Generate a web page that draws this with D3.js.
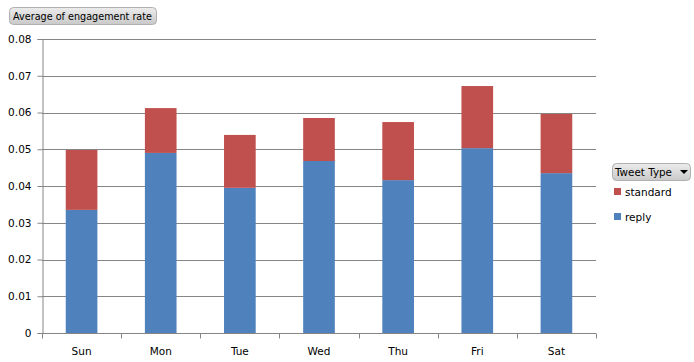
<!DOCTYPE html>
<html>
<head>
<meta charset="utf-8">
<script src="https://cdn.jsdelivr.net/npm/d3@7"></script>
<style>
  body { margin: 0; background: #fff; }
  text { font-family: "DejaVu Sans", Tahoma, sans-serif; font-size: 10.5px; fill: #000; }
</style>
</head>
<body>
<script>
var days = ["Sun", "Mon", "Tue", "Wed", "Thu", "Fri", "Sat"];
var reply = [0.0335, 0.0490, 0.0395, 0.0468, 0.0416, 0.0503, 0.0435];
var standard = [0.0163, 0.0122, 0.0144, 0.0117, 0.0158, 0.0169, 0.0161];
var seriesNames = ["reply", "standard"];
var yTicks = [0, 0.01, 0.02, 0.03, 0.04, 0.05, 0.06, 0.07, 0.08];

function drawChart() {
  var width = 694, height = 362;
  var left = 42, right = 596, top = 39, bottom = 333;

  var svg = d3.select("body").append("svg")
    .attr("width", width).attr("height", height);

  var defs = svg.append("defs");
  var grad = defs.append("linearGradient").attr("id", "btn")
    .attr("x1", 0).attr("y1", 0).attr("x2", 0).attr("y2", 1);
  grad.append("stop").attr("offset", "0%").attr("stop-color", "#ececec");
  grad.append("stop").attr("offset", "100%").attr("stop-color", "#c9c9c9");

  var x = d3.scaleBand().domain(days).range([left, right]).paddingInner(0.6).paddingOuter(0.3);
  var y = d3.scaleLinear().domain([0, 0.08]).range([bottom, top]);

  // gridlines
  svg.append("g").selectAll("line").data(yTicks).enter().append("line")
    .attr("x1", left).attr("x2", right)
    .attr("y1", function(d) { return Math.round(y(d)) + 0.5; })
    .attr("y2", function(d) { return Math.round(y(d)) + 0.5; })
    .attr("stroke", "#868686");

  var rows = days.map(function(d, i) {
    return { day: d, reply: reply[i], standard: standard[i] };
  });
  var stacked = d3.stack().keys(seriesNames)(rows);
  var color = d3.scaleOrdinal().domain(seriesNames).range(["#4f81bd", "#c0504d"]);

  svg.append("g").selectAll("g").data(stacked).enter().append("g")
    .attr("fill", function(s) { return color(s.key); })
    .selectAll("rect").data(function(s) { return s; }).enter().append("rect")
      .attr("x", function(d) { return x(d.data.day); })
      .attr("width", x.bandwidth())
      .attr("y", function(d) { return y(d[1]); })
      .attr("height", function(d) { return y(d[0]) - y(d[1]); });

  // y axis
  var yAxis = svg.append("g").attr("transform", "translate(" + (left + 0.5) + ",0)")
    .call(d3.axisLeft(y).tickValues(yTicks).tickSize(5).tickPadding(6)
      .tickFormat(function(d) { return d === 0 ? "0" : d3.format(".2f")(d); }));
  yAxis.select(".domain").attr("stroke", "#868686");
  yAxis.selectAll(".tick line").attr("stroke", "#868686");
  yAxis.selectAll("text").style("font-size", "10.5px");

  // x axis with ticks between categories
  var xAxis = svg.append("g").attr("transform", "translate(0," + (bottom + 0.5) + ")")
    .call(d3.axisBottom(x).tickSize(0).tickPadding(14));
  xAxis.select(".domain").remove();
  xAxis.append("line").attr("x1", left).attr("x2", right).attr("stroke", "#868686");
  xAxis.selectAll(".sep").data(d3.range(days.length + 1)).enter().append("line")
    .attr("x1", function(i) { return Math.round(left + i * (right - left) / days.length) + 0.5; })
    .attr("x2", function(i) { return Math.round(left + i * (right - left) / days.length) + 0.5; })
    .attr("y1", 0).attr("y2", 5).attr("stroke", "#868686");
  xAxis.selectAll("text").style("font-size", "10.5px");

  // title button
  var t = svg.append("g").attr("transform", "translate(9,7)");
  t.append("rect").attr("x", 0.5).attr("y", 0.5).attr("width", 147).attr("height", 17)
    .attr("rx", 4).attr("fill", "url(#btn)").attr("stroke", "#b0b0b0");
  t.append("text").attr("x", 4).attr("y", 13)
    .attr("textLength", 139).attr("lengthAdjust", "spacingAndGlyphs")
    .text("Average of engagement rate");

  // legend
  var lg = svg.append("g").attr("transform", "translate(612,163)");
  lg.append("rect").attr("x", 0.5).attr("y", 0.5).attr("width", 78).attr("height", 17)
    .attr("rx", 4).attr("fill", "url(#btn)").attr("stroke", "#b0b0b0");
  lg.append("text").attr("x", 3).attr("y", 13)
    .attr("textLength", 57).attr("lengthAdjust", "spacingAndGlyphs").text("Tweet Type");
  lg.append("path").attr("d", "M68,7 L76,7 L72,11 Z").attr("fill", "#000");

  var legendItems = ["standard", "reply"];
  var li = lg.selectAll(".item").data(legendItems).enter().append("g")
    .attr("transform", function(d, i) { return "translate(2," + (25 + i * 25) + ")"; });
  li.append("rect").attr("width", 7).attr("height", 7)
    .attr("fill", function(d) { return color(d); });
  li.append("text").attr("x", 11).attr("y", 8).text(function(d) { return d; });
}

drawChart();
</script>
</body>
</html>
